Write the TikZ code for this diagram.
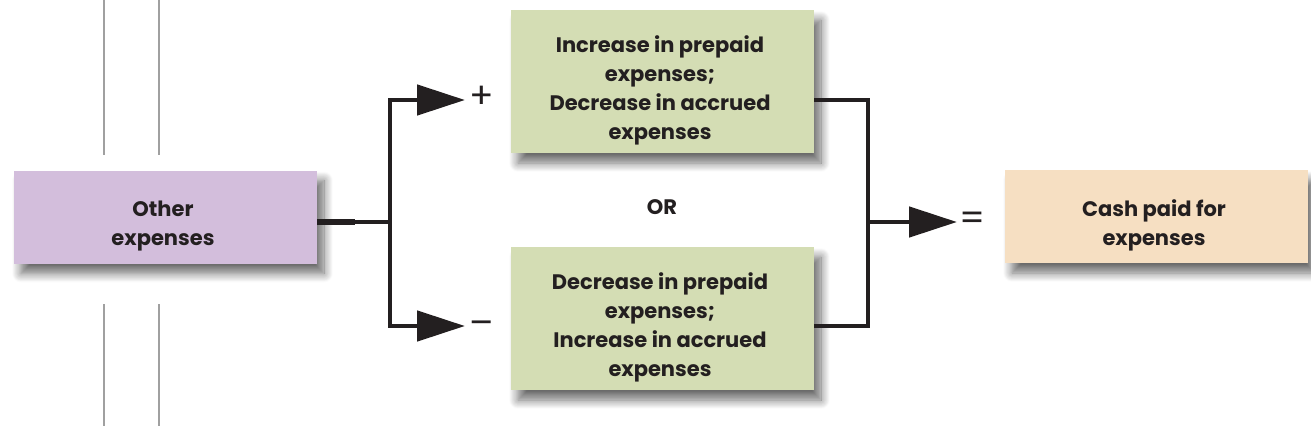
\documentclass[tikz,border=0pt]{standalone}
\usepackage{fontspec}
\setmainfont{Poppins}
\usetikzlibrary{arrows.meta,shadows.blur}
\definecolor{txt}{HTML}{231F20}
\definecolor{purp}{HTML}{D3BEDC}
\definecolor{grn}{HTML}{D4DDB4}
\definecolor{orng}{HTML}{F6DFC2}
\definecolor{gline}{HTML}{A0A0A0}
\tikzset{
  boxstyle/.style={inner sep=0pt,
    blur shadow={shadow xshift=7pt, shadow yshift=-10pt, shadow blur radius=9pt, shadow blur steps=12, shadow opacity=58}},
  boxtext/.style={inner sep=0pt, align=center, text=txt, font=\bfseries\fontsize{21}{29}\selectfont},
  conn/.style={line width=4.8pt, draw=txt, line join=miter},
  tipped/.style={conn, -{Triangle[length=48pt,width=30pt]}},
  signstyle/.style={inner sep=0pt, text=txt, font=\fontsize{36}{36}\selectfont},
  gray/.style={draw=gline, line width=1.2pt}
}
\begin{document}
\begin{tikzpicture}[x=1pt,y=-1pt]
\useasboundingbox (0,0) rectangle (1311,426);
% gray lines
\coordinate (g1a) at (104,0); \coordinate (g1b) at (104,155);
\coordinate (g2a) at (159,0); \coordinate (g2b) at (159,155);
\coordinate (g3a) at (104,304); \coordinate (g3b) at (104,426);
\coordinate (g4a) at (159,304); \coordinate (g4b) at (159,426);
\draw[gray] (g1a) -- (g1b); \draw[gray] (g2a) -- (g2b);
\draw[gray] (g3a) -- (g3b); \draw[gray] (g4a) -- (g4b);
% boxes
\node[boxstyle, fill=purp, minimum width=303pt, minimum height=93pt] (other) at (165.5,217) {};
\node[boxtext] (otxt) at (163,226) {Other\\expenses};
\node[boxstyle, fill=grn, minimum width=303pt, minimum height=143pt] (inc) at (662.5,81.5) {};
\node[boxtext] (inctxt) at (660,90) {Increase in prepaid\\expenses;\\Decrease in accrued\\expenses};
\node[boxstyle, fill=grn, minimum width=303pt, minimum height=143pt] (dec) at (662.5,318.5) {};
\node[boxtext] (dectxt) at (660,327) {Decrease in prepaid\\expenses;\\Increase in accrued\\expenses};
\node[boxstyle, fill=orng, minimum width=303pt, minimum height=93pt] (cash) at (1156.5,216.5) {};
\node[boxtext] (cashtxt) at (1154,225) {Cash paid for\\expenses};
\node[inner sep=0pt, text=txt, font=\bfseries\fontsize{21}{24}\selectfont] (or) at (662,207) {OR};
% coordinates
\coordinate (o1) at (other.east |- 0,222);
\coordinate (o2) at (355,222);
\coordinate (j1) at (390,222);
\coordinate (jt) at (390,100);
\coordinate (jb) at (390,326);
\coordinate (pt) at (465,100);
\coordinate (mt) at (465,326);
\node[signstyle] (plus) at (482,97) {+};
\node[signstyle] (minus) at (482,328) {–};
\coordinate (r1) at (inc.east |- 0,100);
\coordinate (r2) at (dec.east |- 0,326);
\coordinate (rt) at (868,100);
\coordinate (rb) at (868,326);
\coordinate (rm) at (868,222);
\coordinate (et) at (957,222);
\node[signstyle] (eq) at (972,221) {=};
% connectors
\draw[conn, line width=6pt] (o1) -- (o2);
\draw[conn] (o2) -- (j1);
\draw[tipped] (j1) -- (jt) -- (pt);
\draw[tipped] (j1) -- (jb) -- (mt);
\draw[conn] (r1) -- (rt) -- (rb) -- (r2);
\draw[tipped] (rm) -- (et);
\end{tikzpicture}
\end{document}
